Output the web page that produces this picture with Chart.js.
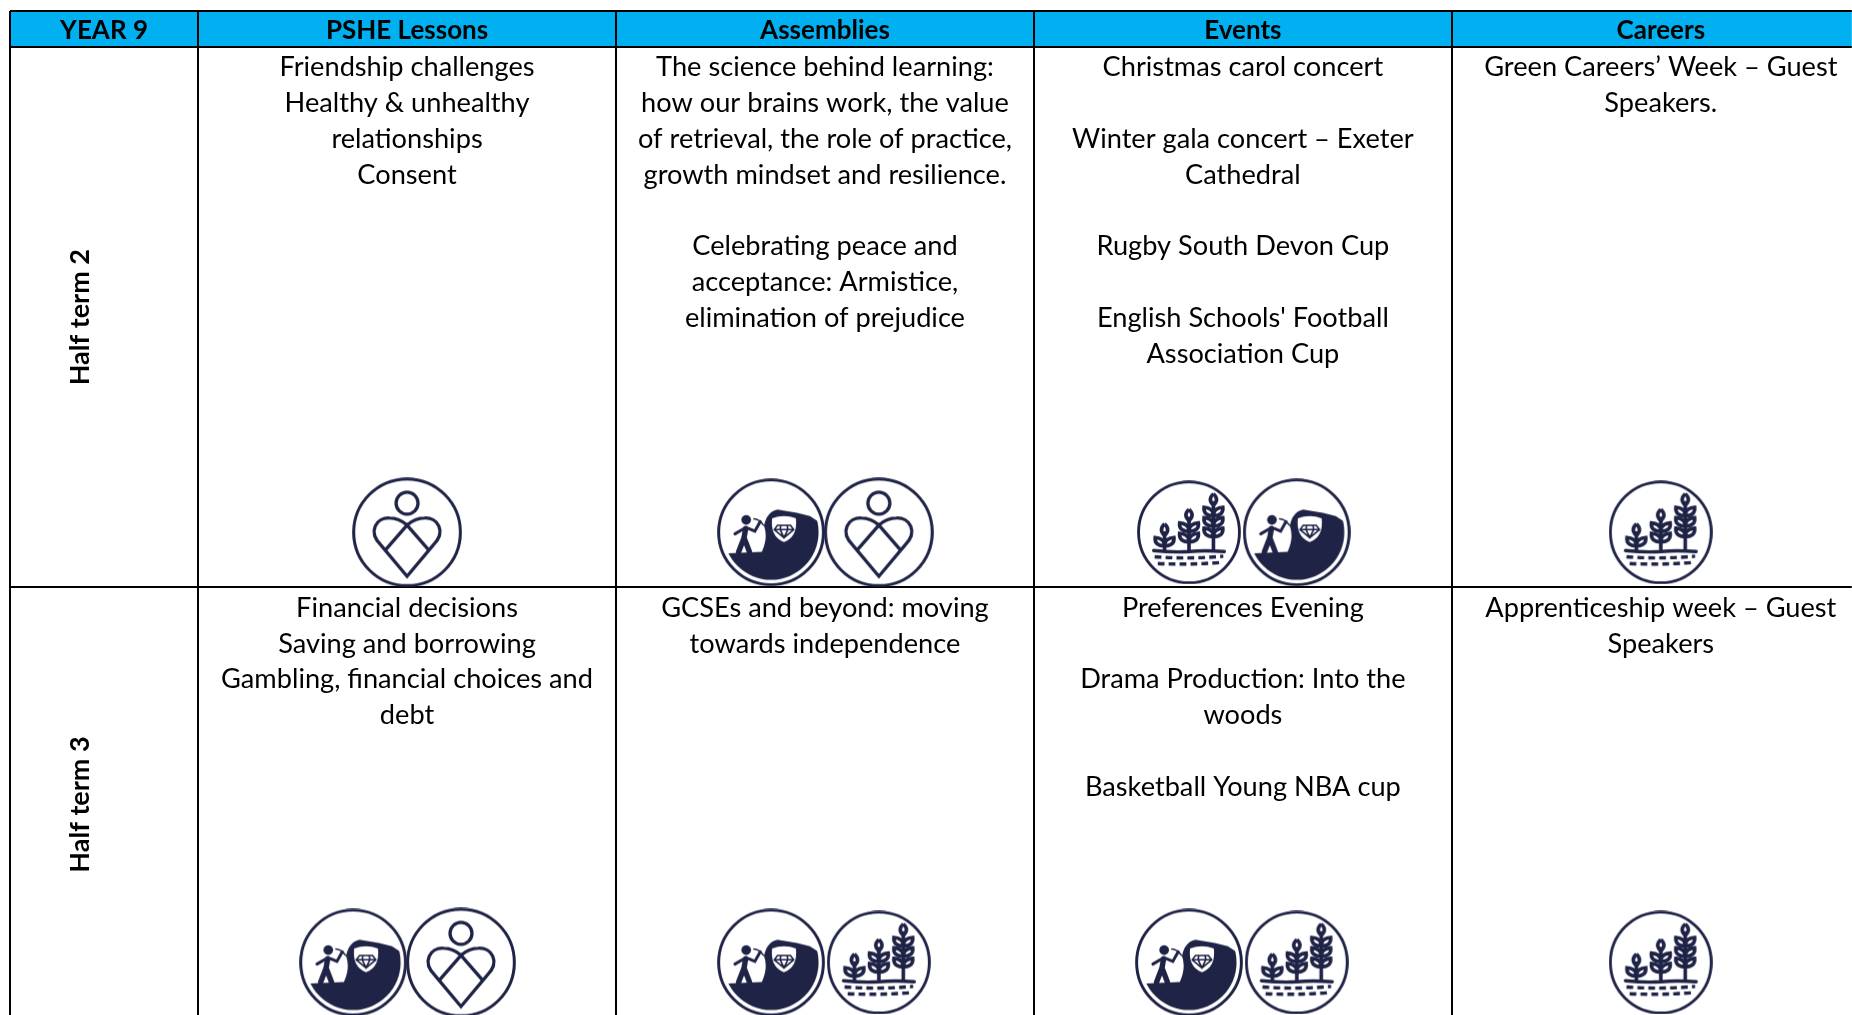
<!DOCTYPE html>
<html>
<head>
<meta charset="utf-8">
<title>Year 9 overview</title>
<script src="https://cdn.jsdelivr.net/npm/chart.js@4"></script>
<style>
  html, body { margin: 0; padding: 0; background: #fff; overflow: hidden; }
  canvas { display: block; }
</style>
</head>
<body>
<canvas id="tableCanvas" width="1852" height="1015"></canvas>
<script>
const cornerLabel = 'YEAR 9';
const columns = ['PSHE Lessons', 'Assemblies', 'Events', 'Careers'];
const terms = ['Half term 2', 'Half term 3'];

const term2Lines = [
    ['Friendship challenges', 'Healthy & unhealthy', 'relationships', 'Consent'],
    ['The science behind learning:', 'how our brains work, the value', 'of retrieval, the role of practice,', 'growth mindset and resilience.', '', 'Celebrating peace and', 'acceptance: Armistice,', 'elimination of prejudice'],
    ['Christmas carol concert', '', 'Winter gala concert \u2013 Exeter', 'Cathedral', '', 'Rugby South Devon Cup', '', "English Schools' Football", 'Association Cup'],
    ['Green Careers\u2019 Week \u2013 Guest', 'Speakers.']
];
const term3Lines = [
    ['Financial decisions', 'Saving and borrowing', 'Gambling, financial choices and', 'debt'],
    ['GCSEs and beyond: moving', 'towards independence'],
    ['Preferences Evening', '', 'Drama Production: Into the', 'woods', '', 'Basketball Young NBA cup'],
    ['Apprenticeship week \u2013 Guest', 'Speakers']
];
const term2Icons = [['heart'], ['mine', 'heart'], ['plants', 'mine'], ['plants']];
const term3Icons = [['mine', 'heart'], ['mine', 'plants'], ['mine', 'plants'], ['plants']];

// x axis: one unit is one wide column. y axis: one unit is one line of text.
const xMin = -0.45, xMax = 3.957;
const yMin = -1, yMax = 27;
const rowEdges = [0, 15.08, 27.19];
const iconRows = [13.54, 25.54];
const pairOffset = 0.129;
const firstLine = 0.57;
const headerLine = -0.44;
const termLabelX = -0.282;
const navy = '#1f2346';
const iconSizes = { heart: 110, mine: 108, plants: 104 };

function ring(ctx) {
    ctx.beginPath();
    ctx.arc(0, 0, 0.97, 0, Math.PI * 2);
    ctx.lineWidth = 0.055;
    ctx.stroke();
}

function drawHeart(ctx) {
    ring(ctx);
    ctx.lineWidth = 0.06;
    ctx.beginPath();
    ctx.arc(0, -0.53, 0.2, 0, Math.PI * 2);
    ctx.stroke();
    ctx.beginPath();
    ctx.moveTo(0, 0.8);
    ctx.lineTo(-0.47, 0.24);
    ctx.bezierCurveTo(-0.73, -0.02, -0.55, -0.27, -0.32, -0.26);
    ctx.bezierCurveTo(-0.18, -0.26, -0.08, -0.2, 0, -0.13);
    ctx.bezierCurveTo(0.08, -0.2, 0.18, -0.26, 0.32, -0.26);
    ctx.bezierCurveTo(0.55, -0.27, 0.73, -0.02, 0.47, 0.24);
    ctx.closePath();
    ctx.moveTo(-0.4, 0.33);
    ctx.lineTo(0, -0.13);
    ctx.lineTo(0.4, 0.33);
    ctx.stroke();
}

function drawMine(ctx) {
    ring(ctx);
    ctx.save();
    ctx.beginPath();
    ctx.arc(0, 0, 0.88, 0, Math.PI * 2);
    ctx.clip();
    ctx.beginPath();
    ctx.moveTo(-1, 0.4);
    ctx.lineTo(-0.17, 0.36);
    ctx.quadraticCurveTo(-0.05, 0.1, -0.13, -0.12);
    ctx.quadraticCurveTo(-0.08, -0.38, 0.12, -0.42);
    ctx.lineTo(0.48, -0.36);
    ctx.lineTo(0.72, -0.3);
    ctx.lineTo(1, -0.12);
    ctx.lineTo(1, 1);
    ctx.lineTo(-1, 1);
    ctx.closePath();
    ctx.fill();
    ctx.restore();

    // gem window in the rock
    ctx.fillStyle = '#fff';
    ctx.beginPath();
    ctx.moveTo(0.02, -0.26);
    ctx.quadraticCurveTo(0.24, -0.34, 0.46, -0.26);
    ctx.quadraticCurveTo(0.5, 0.08, 0.24, 0.18);
    ctx.quadraticCurveTo(-0.02, 0.08, 0.02, -0.26);
    ctx.fill();
    ctx.lineWidth = 0.03;
    ctx.beginPath();
    ctx.moveTo(0.12, -0.13);
    ctx.lineTo(0.36, -0.13);
    ctx.lineTo(0.42, -0.05);
    ctx.lineTo(0.24, 0.1);
    ctx.lineTo(0.06, -0.05);
    ctx.closePath();
    ctx.moveTo(0.06, -0.05);
    ctx.lineTo(0.42, -0.05);
    ctx.moveTo(0.18, -0.13);
    ctx.lineTo(0.17, -0.05);
    ctx.lineTo(0.24, 0.1);
    ctx.lineTo(0.31, -0.05);
    ctx.lineTo(0.3, -0.13);
    ctx.stroke();

    // miner with pick
    ctx.fillStyle = navy;
    ctx.beginPath();
    ctx.arc(-0.46, -0.23, 0.09, 0, Math.PI * 2);
    ctx.fill();
    ctx.lineCap = 'round';
    ctx.lineWidth = 0.1;
    ctx.beginPath();
    ctx.moveTo(-0.47, -0.07);
    ctx.lineTo(-0.5, 0.1);
    ctx.lineTo(-0.6, 0.36);
    ctx.moveTo(-0.5, 0.1);
    ctx.lineTo(-0.4, 0.36);
    ctx.stroke();
    ctx.lineWidth = 0.055;
    ctx.beginPath();
    ctx.moveTo(-0.5, -0.07);
    ctx.lineTo(-0.67, 0.03);
    ctx.moveTo(-0.42, -0.07);
    ctx.lineTo(-0.3, -0.02);
    ctx.lineTo(-0.2, -0.2);
    ctx.stroke();
    ctx.lineWidth = 0.025;
    ctx.beginPath();
    ctx.moveTo(-0.32, -0.25);
    ctx.quadraticCurveTo(-0.22, -0.25, -0.14, -0.13);
    ctx.stroke();
}

function drawPlant(ctx, x, top, pairs) {
    const base = 0.36;
    const step = 0.2;
    ctx.lineWidth = 0.07;
    ctx.beginPath();
    ctx.moveTo(x, base);
    ctx.lineTo(x, top + 0.14);
    ctx.stroke();
    // bud
    ctx.beginPath();
    ctx.moveTo(x, top);
    ctx.quadraticCurveTo(x + 0.12, top + 0.11, x, top + 0.22);
    ctx.quadraticCurveTo(x - 0.12, top + 0.11, x, top);
    ctx.stroke();
    for (let i = 0; i < pairs; i++) {
        let y = top + 0.42 + i * step;
        for (let side of [-1, 1]) {
            ctx.beginPath();
            ctx.moveTo(x, y);
            ctx.quadraticCurveTo(x + side * 0.2, y, x + side * 0.18, y - 0.16);
            ctx.quadraticCurveTo(x + side * 0.03, y - 0.15, x, y - 0.04);
            ctx.stroke();
        }
    }
}

function drawPlants(ctx) {
    ring(ctx);
    drawPlant(ctx, -0.47, -0.16, 1);
    drawPlant(ctx, 0, -0.44, 2);
    drawPlant(ctx, 0.47, -0.74, 3);
    ctx.lineCap = 'round';
    ctx.lineWidth = 0.065;
    ctx.beginPath();
    ctx.moveTo(-0.68, 0.35);
    ctx.quadraticCurveTo(-0.3, 0.39, 0, 0.37);
    ctx.quadraticCurveTo(0.3, 0.34, 0.68, 0.37);
    ctx.stroke();
    ctx.lineWidth = 0.065;
    ctx.lineCap = 'butt';
    ctx.setLineDash([0.13, 0.08]);
    ctx.beginPath();
    ctx.moveTo(-0.66, 0.47);
    ctx.quadraticCurveTo(0, 0.52, 0.66, 0.46);
    ctx.moveTo(-0.6, 0.6);
    ctx.quadraticCurveTo(0, 0.63, 0.62, 0.58);
    ctx.stroke();
}

const iconPainters = { heart: drawHeart, mine: drawMine, plants: drawPlants };

function makeIcon(kind) {
    let size = iconSizes[kind];
    let c = document.createElement('canvas');
    c.width = size;
    c.height = size;
    let ctx = c.getContext('2d');
    ctx.translate(size / 2, size / 2);
    ctx.scale(size / 2, size / 2);
    ctx.strokeStyle = navy;
    ctx.fillStyle = navy;
    iconPainters[kind](ctx);
    return c;
}

// one scatter dataset per icon kind, points placed in table units
function iconPoints(kind) {
    let points = [];
    [term2Icons, term3Icons].forEach(function(row, r) {
        row.forEach(function(cell, col) {
            cell.forEach(function(name, i) {
                if (name !== kind) return;
                let shift = cell.length === 2 ? (i === 0 ? -pairOffset : pairOffset) : 0;
                points.push({ x: col + 0.5 + shift, y: iconRows[r] });
            });
        });
    });
    return points;
}

const tableText = {
    id: 'tableText',
    beforeDraw(chart) {
        let { ctx, chartArea, scales: { y } } = chart;
        ctx.save();
        ctx.fillStyle = '#fff';
        ctx.fillRect(0, 0, chart.width, chart.height);
        ctx.fillStyle = '#00b0f0';
        ctx.fillRect(chartArea.left, y.getPixelForValue(-1), chartArea.width, y.getPixelForValue(0) - y.getPixelForValue(-1));
        ctx.restore();
    },
    afterDatasetsDraw(chart) {
        let { ctx, scales: { x, y } } = chart;
        ctx.save();
        ctx.fillStyle = '#000';
        ctx.textAlign = 'center';
        ctx.textBaseline = 'middle';

        ctx.font = 'bold 26px Lato';
        ctx.fillText(cornerLabel, x.getPixelForValue(xMin / 2), y.getPixelForValue(headerLine));
        columns.forEach(function(name, col) {
            ctx.fillText(name, x.getPixelForValue(col + 0.5), y.getPixelForValue(headerLine));
        });

        ctx.font = '27.2px Lato';
        [term2Lines, term3Lines].forEach(function(row, r) {
            row.forEach(function(lines, col) {
                lines.forEach(function(line, i) {
                    if (line) ctx.fillText(line, x.getPixelForValue(col + 0.5), y.getPixelForValue(rowEdges[r] + firstLine + i));
                });
            });
        });

        ctx.font = 'bold 27px Lato';
        terms.forEach(function(term, r) {
            ctx.save();
            ctx.translate(x.getPixelForValue(termLabelX), y.getPixelForValue((rowEdges[r] + rowEdges[r + 1]) / 2));
            ctx.rotate(-Math.PI / 2);
            ctx.fillText(term, 0, 0);
            ctx.restore();
        });
        ctx.restore();
    }
};

function fixedTicks(values) {
    return function(axis) {
        axis.ticks = values.map(function(v) { return { value: v }; });
    };
}

new Chart(document.getElementById('tableCanvas'), {
    type: 'scatter',
    data: {
        datasets: Object.keys(iconPainters).map(function(kind) {
            return {
                label: kind,
                data: iconPoints(kind),
                pointStyle: makeIcon(kind),
                // small radius so the layout keeps no room for overflow, the image sets the real size
                pointRadius: 0.2,
                pointBorderWidth: 0,
                pointHoverRadius: 0,
                pointHoverBorderWidth: 0,
                showLine: false,
                clip: false
            };
        })
    },
    options: {
        responsive: false,
        animation: false,
        events: [],
        layout: { padding: { left: 10, top: 11, right: 0, bottom: 0 } },
        plugins: { legend: { display: false }, tooltip: { enabled: false } },
        scales: {
            x: {
                type: 'linear',
                min: xMin,
                max: xMax,
                afterBuildTicks: fixedTicks([xMin, 0, 1, 2, 3]),
                ticks: { display: false },
                border: { display: false },
                grid: { color: '#000', lineWidth: 2, drawTicks: false }
            },
            y: {
                type: 'linear',
                reverse: true,
                min: yMin,
                max: yMax,
                afterBuildTicks: fixedTicks([yMin, rowEdges[0], rowEdges[1]]),
                ticks: { display: false },
                border: { display: false },
                grid: { color: '#000', lineWidth: 2, drawTicks: false }
            }
        }
    },
    plugins: [tableText]
});
</script>
</body>
</html>
